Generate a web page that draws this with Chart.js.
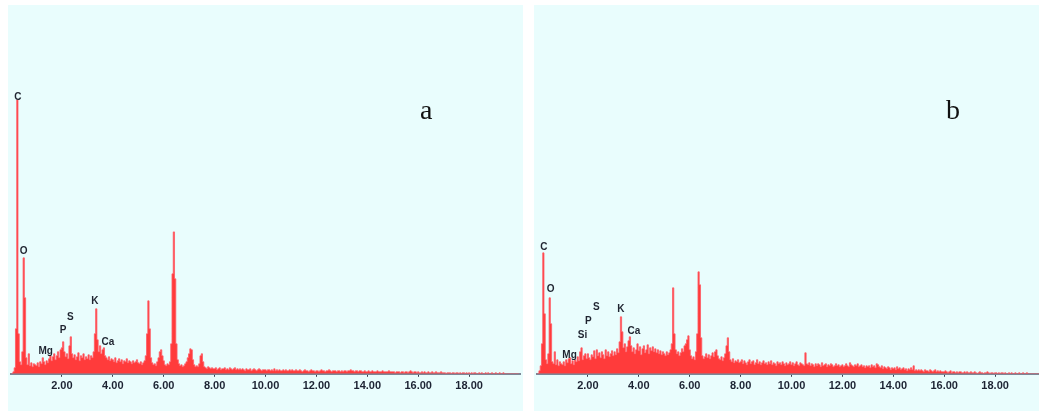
<!DOCTYPE html>
<html>
<head>
<meta charset="utf-8">
<script src="https://cdn.jsdelivr.net/npm/chart.js@4.4.1/dist/chart.umd.min.js"></script>
<style>
  html, body { margin: 0; padding: 0; background: #ffffff; }
  body { width: 1039px; height: 411px; position: relative; overflow: hidden; }
  .panel { position: absolute; top: 5px; height: 406px; background: #e9fdfd; }
  #panelA { left: 8px; width: 515px; }
  #panelB { left: 534px; width: 505px; }
  .plot { position: absolute; left: 0; top: 0; width: 515px; height: 406px; }
  .tag { position: absolute; font-family: "Liberation Serif", "Times New Roman", serif; font-size: 28px; color: #111; line-height: 1; }
</style>
</head>
<body>
<div class="panel" id="panelA"><div class="plot"><canvas id="chartA"></canvas></div></div>
<div class="panel" id="panelB"><div class="plot"><canvas id="chartB"></canvas></div></div>
<div class="tag" style="left:420px; top:96px;">a</div>
<div class="tag" style="left:946px; top:96px;">b</div>

<script>
// energy axis (keV)
const CHANNEL_WIDTH = 0.05;
const ENERGY_MAX = 20;
const tickValues = [2, 4, 6, 8, 10, 12, 14, 16, 18];

// spectrum a, one row per keV (0.05 keV channels)
const countsA = [
  0, 0, 2, 6, 45, 274, 40, 12, 9, 22, 116, 76, 16, 9, 20, 8, 11, 7, 10, 9,
  8, 11, 7, 12, 10, 16, 12, 9, 13, 11, 15, 18, 13, 17, 20, 14, 18, 22, 16, 24,
  26, 32, 22, 17, 20, 15, 28, 37, 20, 16, 19, 14, 17, 21, 13, 18, 16, 20, 14, 17,
  15, 19, 14, 18, 16, 22, 40, 65, 34, 22, 28, 20, 24, 26, 18, 16, 14, 17, 13, 15,
  14, 12, 16, 11, 13, 15, 12, 14, 10, 13, 12, 15, 11, 13, 12, 10, 13, 11, 12, 14,
  11, 10, 12, 9, 11, 13, 18, 40, 73, 45, 16, 11, 9, 10, 8, 12, 16, 22, 24, 18,
  13, 9, 8, 10, 9, 12, 30, 100, 142, 95, 30, 14, 10, 8, 9, 7, 8, 10, 12, 16,
  20, 25, 24, 14, 9, 7, 8, 7, 10, 18, 20, 12, 7, 6, 5, 7, 6, 5, 6, 5,
  5, 6, 4, 5, 6, 4, 5, 5, 6, 4, 5, 4, 6, 5, 4, 5, 6, 4, 5, 4,
  5, 4, 5, 4, 3, 5, 4, 4, 5, 3, 4, 5, 4, 3, 4, 5, 4, 3, 4, 4,
  4, 3, 4, 4, 3, 4, 3, 5, 3, 4, 3, 4, 3, 3, 4, 3, 4, 3, 3, 4,
  3, 4, 3, 3, 4, 3, 3, 4, 3, 2, 3, 4, 3, 3, 2, 3, 4, 3, 3, 2,
  3, 3, 2, 3, 4, 3, 3, 2, 3, 3, 4, 3, 2, 3, 3, 3, 2, 3, 3, 2,
  3, 2, 3, 3, 2, 3, 3, 4, 3, 3, 2, 3, 3, 2, 3, 3, 2, 2, 3, 2,
  2, 3, 2, 2, 3, 2, 2, 2, 3, 2, 2, 2, 3, 2, 2, 2, 2, 3, 2, 2,
  2, 2, 1, 2, 2, 2, 1, 2, 2, 1, 2, 2, 1, 2, 3, 2, 1, 2, 2, 1,
  2, 1, 1, 2, 1, 2, 1, 1, 2, 1, 1, 2, 1, 1, 2, 1, 1, 1, 2, 1,
  1, 1, 0, 1, 1, 1, 0, 1, 1, 0, 1, 1, 0, 1, 0, 1, 1, 0, 1, 0,
  1, 0, 1, 0, 1, 1, 0, 0, 1, 0, 1, 0, 0, 1, 0, 1, 0, 0, 1, 0,
  0, 1, 0, 0, 1, 0, 0, 1, 0, 0, 0, 0, 0, 0, 0, 0, 0, 0, 0, 0
];

// spectrum b
const countsB = [
  0, 0, 3, 8, 30, 121, 60, 14, 10, 20, 76, 50, 12, 10, 22, 9, 14, 8, 12, 10,
  9, 12, 8, 14, 11, 15, 16, 10, 13, 9, 14, 12, 17, 13, 22, 26, 14, 18, 20, 15,
  20, 16, 14, 19, 17, 23, 15, 24, 18, 21, 16, 22, 19, 15, 24, 18, 22, 17, 20, 23,
  18, 22, 19, 25, 21, 32, 57, 42, 26, 30, 22, 27, 33, 37, 28, 22, 26, 20, 24, 30,
  23, 27, 19, 25, 28, 21, 24, 29, 20, 26, 23, 27, 22, 25, 21, 24, 20, 23, 19, 22,
  20, 18, 22, 19, 21, 24, 30, 86, 40, 24, 20, 22, 18, 21, 25, 22, 28, 30, 34, 38,
  24, 18, 15, 17, 14, 22, 40, 102, 89, 36, 18, 15, 17, 20, 16, 19, 15, 18, 21, 17,
  22, 24, 18, 15, 14, 17, 13, 16, 20, 28, 36, 22, 14, 12, 15, 11, 13, 12, 14, 11,
  12, 14, 10, 13, 11, 9, 12, 14, 10, 12, 13, 9, 11, 14, 10, 12, 9, 11, 13, 10,
  11, 9, 12, 10, 13, 9, 11, 10, 8, 12, 10, 11, 9, 12, 10, 8, 11, 9, 10, 12,
  9, 11, 8, 10, 12, 9, 8, 11, 10, 9, 8, 21, 10, 9, 11, 8, 10, 9, 7, 10,
  8, 10, 9, 7, 11, 8, 9, 10, 7, 9, 8, 10, 9, 7, 8, 10, 8, 9, 7, 8,
  9, 7, 8, 10, 8, 7, 11, 9, 8, 7, 9, 8, 10, 7, 8, 9, 7, 8, 6, 8,
  7, 8, 6, 9, 7, 8, 6, 10, 9, 7, 6, 8, 5, 7, 6, 5, 7, 6, 4, 6,
  5, 6, 4, 7, 5, 6, 4, 5, 6, 4, 5, 3, 5, 4, 6, 4, 8, 3, 4, 3,
  4, 3, 4, 3, 2, 4, 3, 3, 2, 4, 3, 2, 3, 4, 2, 3, 2, 3, 2, 2,
  2, 3, 2, 1, 2, 3, 1, 2, 2, 1, 2, 1, 2, 2, 1, 1, 2, 1, 2, 1,
  1, 2, 1, 1, 2, 1, 0, 1, 2, 1, 1, 0, 1, 1, 2, 1, 0, 1, 1, 0,
  1, 1, 0, 1, 0, 1, 1, 0, 1, 0, 0, 1, 0, 1, 0, 0, 1, 0, 0, 1,
  0, 0, 1, 0, 0, 1, 0, 0, 0, 0, 0, 0, 0, 0, 0, 0, 0, 0, 0, 0
];

// element markers: symbol, energy (keV), label height (counts)
const elementsA = ['C', 'O', 'Mg', 'P', 'S', 'K', 'Ca'];
const energiesA = [0.27, 0.50, 1.36, 2.05, 2.33, 3.30, 3.81];
const labelHeightsA = [277, 123, 23, 44, 57, 73, 32];

const elementsB = ['C', 'O', 'Mg', 'Si', 'P', 'S', 'K', 'Ca'];
const energiesB = [0.27, 0.54, 1.28, 1.79, 2.02, 2.33, 3.30, 3.81];
const labelHeightsB = [127, 85, 19, 39, 53, 67, 65, 43];

const Y_MAX = 369;

function toPoints(counts) {
    return counts.map((c, i) => ({ x: +(i * CHANNEL_WIDTH).toFixed(2), y: c }));
}

const elementLabels = {
    id: 'elementLabels',
    afterDatasetsDraw(chart, args, opts) {
        const ctx = chart.ctx;
        const xs = chart.scales.x, ys = chart.scales.y;
        ctx.save();
        ctx.font = 'bold 10px "Liberation Sans", Arial, sans-serif';
        ctx.fillStyle = '#1f2430';
        ctx.textAlign = 'center';
        ctx.textBaseline = 'middle';
        opts.names.forEach((n, i) => {
            ctx.fillText(n, xs.getPixelForValue(opts.energies[i]), ys.getPixelForValue(opts.heights[i]));
        });
        ctx.restore();
    }
};

function makeSpectrum(canvasId, counts, names, energies, heights) {
    const ctx = document.getElementById(canvasId).getContext('2d');
    return new Chart(ctx, {
        type: 'line',
        data: {
            datasets: [{
                data: toPoints(counts),
                borderColor: 'rgba(255, 90, 100, 0.8)',
                backgroundColor: '#ff3b3b',
                borderWidth: 1,
                pointRadius: 0,
                stepped: 'middle',
                fill: 'origin'
            }]
        },
        options: {
            responsive: true,
            maintainAspectRatio: false,
            animation: false,
            layout: { padding: { left: 0, right: 0, top: 0, bottom: 15 } },
            plugins: {
                legend: { display: false },
                tooltip: { enabled: false },
                elementLabels: { names: names, energies: energies, heights: heights }
            },
            scales: {
                x: {
                    type: 'linear',
                    min: 0,
                    max: ENERGY_MAX,
                    afterBuildTicks: (axis) => {
                        axis.ticks = [0].concat(tickValues).concat([ENERGY_MAX]).map(v => ({ value: v }));
                    },
                    ticks: {
                        autoSkip: false,
                        maxRotation: 0,
                        padding: 3,
                        color: '#1c2333',
                        font: { family: '"Liberation Sans", Arial, sans-serif', size: 11, weight: 'bold' },
                        callback: (v) => tickValues.includes(v) ? v.toFixed(2) : ''
                    },
                    grid: {
                        drawOnChartArea: false,
                        drawTicks: true,
                        tickLength: 3,
                        color: (c) => (c.tick && tickValues.includes(c.tick.value)) ? '#3a4050' : 'rgba(0,0,0,0)'
                    },
                    border: { display: true, color: '#7c8797', width: 2 }
                },
                y: {
                    display: false,
                    min: 0,
                    max: Y_MAX
                }
            }
        },
        plugins: [elementLabels]
    });
}

makeSpectrum('chartA', countsA, elementsA, energiesA, labelHeightsA);
makeSpectrum('chartB', countsB, elementsB, energiesB, labelHeightsB);
</script>
</body>
</html>
